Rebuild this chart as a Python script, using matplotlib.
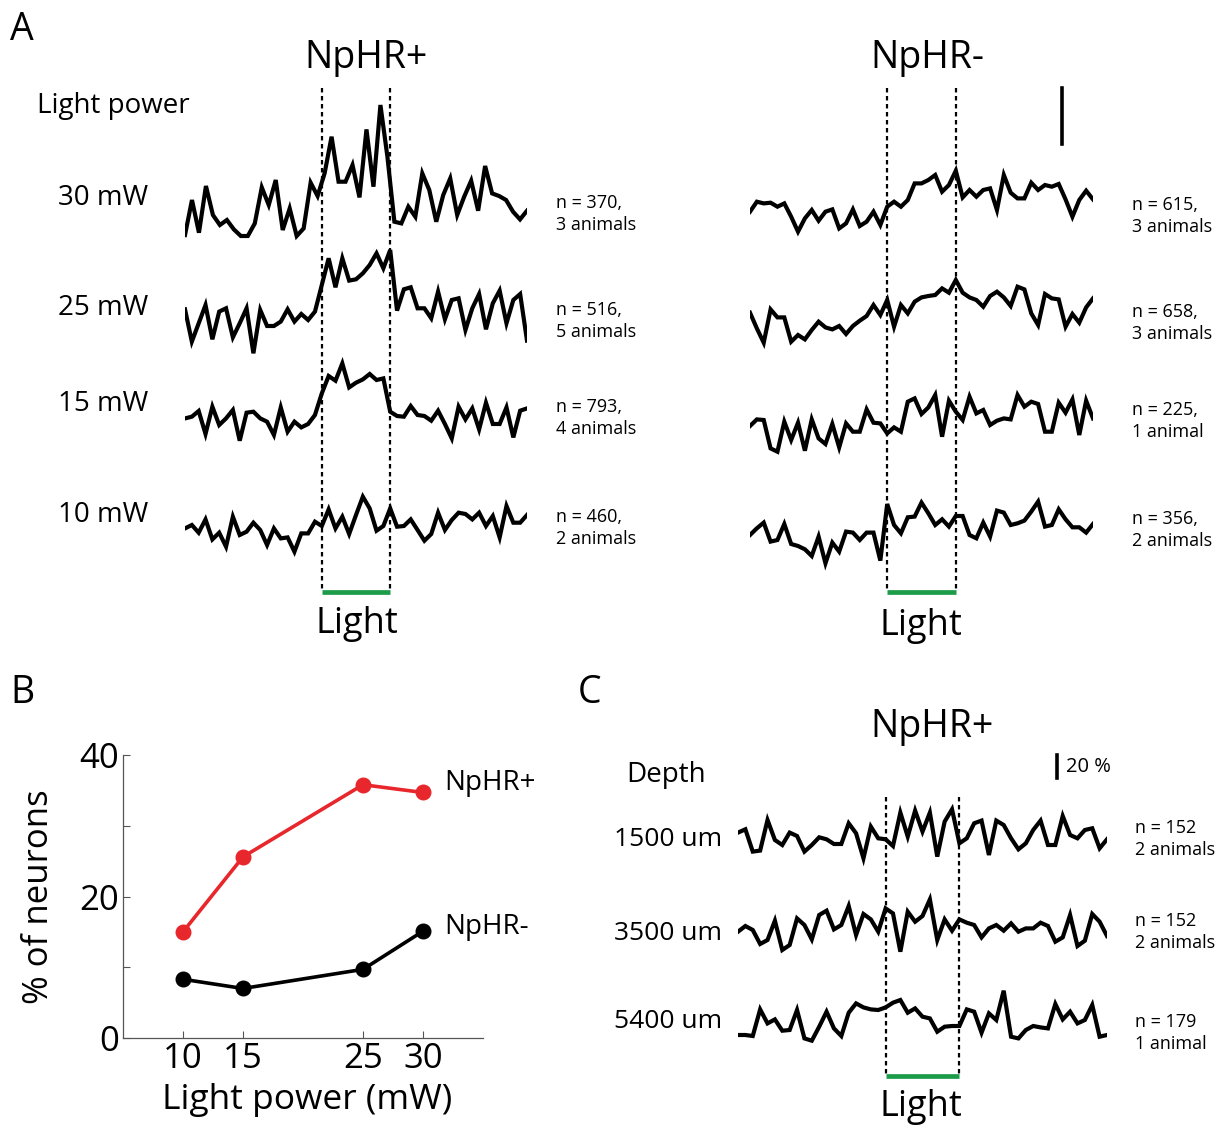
import numpy as np
import matplotlib
matplotlib.use("Agg")
import matplotlib.pyplot as plt

plt.rcParams['font.family'] = ['Open Sans', 'DejaVu Sans']

W, H = 1220, 1126

# ---- panel A, NpHR+ traces (heights above each row baseline) ----
npos_30 = [1.7, 36.7, 4, 50.7, 21.7, 11.7, 16.7, 7.3, 0.7, 0.7, 13.3, 49.3, 31.7, 56.7, 6.7, 28.3, 0.7,
           8.3, 54, 40.7, 63.3, 100, 55, 55, 71.7, 39.3, 107.3, 50, 131.7, 80, 15, 13.3, 30, 20, 63.3,
           46.7, 15, 41.7, 58.3, 21.7, 40, 56, 26, 70.7, 43.3, 40.7, 36.7, 25, 17.3, 26]
npos_25 = [44, 11.7, 30, 48.3, 14, 41.7, 45, 16, 30, 45, 0, 43.3, 27.3, 27.3, 31.7, 44, 31.7, 39.3, 33.3,
           41.7, 68.3, 95, 66, 95, 72.7, 74, 80, 88.3, 100, 85, 103.3, 42.7, 64, 66, 45, 45, 35, 61.7, 34,
           53.3, 55, 23.3, 45, 59.3, 24, 50, 62.7, 30, 53.3, 59.3, 12.7]
npos_15 = [22.3, 24, 29.7, 6.7, 34, 15.7, 22.3, 30.7, 0, 28, 29, 22.3, 19, 5.7, 33.3, 9, 19, 13.3, 16.7,
           25.7, 47.3, 64.7, 60, 77.3, 53.3, 58, 61.3, 66.7, 60.7, 62.3, 29, 24.7, 24, 34.7, 25.7, 24.7,
           20, 30, 16.7, 2.3, 34, 21.3, 32.3, 11.3, 38, 16.7, 16.7, 33.3, 3.3, 30, 32.3]
npos_10 = [23.3, 26.7, 19, 32.3, 12.3, 19, 5, 35, 16.7, 20, 29, 21.7, 6.7, 23.3, 13.3, 14.3, 0, 18.3,
           18.3, 30, 25.7, 42.3, 23.3, 35, 17.7, 36.7, 55, 43.3, 21, 25.7, 43.3, 25, 25.7, 32.3, 21.7, 11,
           17.7, 39, 21.7, 31.7, 39, 37.7, 32.3, 39, 25.7, 35.7, 14.3, 45.7, 29, 29, 36.7]

# ---- panel A, NpHR- traces ----
nneg_30 = [20, 30, 28.3, 29, 25, 28.3, 15, 0, 13.3, 21.7, 11, 20, 22.3, 3.3, 8.3, 22.3, 5.7, 10, 20, 6.7,
           25, 30, 25, 31.7, 48.3, 48.3, 51.7, 56.7, 40, 46.7, 61, 34.3, 41.7, 35, 41.7, 43.3, 21.7, 56.7,
           39, 33.3, 33.3, 49, 41.7, 46.7, 45, 47.7, 32.3, 15, 31.7, 41, 32.3]
nneg_25 = [30, 14.3, 0, 33.3, 25.3, 25.3, 1, 7.7, 3.3, 12.7, 21, 15.3, 13.3, 16.7, 8.7, 16.7, 22, 26.7,
           37.7, 27.7, 42.7, 16, 37.7, 29.3, 41, 45.3, 46.7, 47.7, 54.3, 50, 62.7, 50, 45.3, 42.7, 36, 46.7,
           51, 45.3, 36.7, 56, 53.3, 29.3, 17.7, 48.7, 44.3, 43.3, 16, 28.7, 20, 35.3, 44.3]
nneg_15 = [25.7, 32.3, 31.7, 3.3, 0, 30, 11.7, 29, 1, 32.3, 13.3, 7.7, 27.7, 4.3, 28.3, 20, 20, 42.3, 29,
           28.3, 18.3, 24.3, 20, 50, 53.3, 37.7, 44.3, 56.7, 15, 51, 40, 31.7, 55, 38.3, 41.7, 26.7, 31,
           33.3, 32.3, 56.7, 45, 50, 47.7, 20, 20, 49, 39, 52.3, 16.7, 51, 33.3]
nneg_10 = [28.3, 35, 40.7, 21.7, 23.3, 39.3, 19.3, 17.3, 14, 7.3, 26.7, 0, 20.7, 11.7, 31.7, 30.7, 23.3,
           30.7, 30.7, 2.7, 59.3, 38.3, 30, 46, 46.7, 60.7, 50, 38.3, 44, 36.7, 47.3, 47.3, 28.3, 25, 40.7,
           26.7, 52.7, 50.7, 38.3, 40, 42.7, 51.7, 61.7, 36.7, 38.3, 54, 44, 36, 36, 30.7, 39.3]

# ---- panel C, depth traces ----
depth_1500 = [25.7, 29, 6.7, 7.7, 38.3, 18.3, 13.3, 25.7, 22.3, 6.7, 13.3, 21, 19, 14.3, 14.3, 35, 25, 0,
              31.7, 20, 19, 12.3, 45.7, 21.7, 47.7, 26.7, 45.7, 1.7, 36.7, 49, 15, 20, 35, 37.7, 3.3, 37.7,
              33.3, 20, 9, 15, 28.3, 37.7, 13.3, 13.3, 42.3, 23.3, 20, 28.3, 30, 10, 19]
depth_3500 = [20, 25.7, 21.7, 7.7, 11.7, 31, 1.7, 6.7, 33.3, 26.7, 12.3, 36.7, 41, 22.3, 26.7, 45.7, 16.7,
              37.7, 32.3, 20, 43.3, 38.3, 0, 40, 30, 35.7, 52.3, 11.7, 32.3, 21, 32.3, 29, 26.7, 14.3, 23.3,
              26.7, 21, 28.3, 20, 23.3, 23.3, 29, 25.7, 10, 14.3, 36.7, 5.7, 11, 37.7, 30, 15.7]
depth_5400 = [5.7, 5.7, 4.7, 31.3, 17.3, 21.3, 10, 10.7, 30.7, 2.3, 0, 14, 29, 12.3, 4.7, 28, 37.3, 33.3,
              31.3, 30.7, 33.3, 38, 40.7, 28, 32.3, 24, 22.3, 9, 14, 14.7, 14.7, 31.3, 29, 8, 27.3, 20.7,
              50, 4, 2.3, 10.7, 14.7, 13.3, 12.3, 36.7, 21.3, 29, 17.3, 20.7, 35.7, 4, 5.7]

powers_lbl = ['30 mW', '25 mW', '15 mW', '10 mW']
npos_n = ['n = 370,\n3 animals', 'n = 516,\n5 animals', 'n = 793,\n4 animals', 'n = 460,\n2 animals']
nneg_n = ['n = 615,\n3 animals', 'n = 658,\n3 animals', 'n = 225,\n1 animal', 'n = 356,\n2 animals']
depth_lbl = ['1500 um', '3500 um', '5400 um']
depth_n = ['n = 152\n2 animals', 'n = 152\n2 animals', 'n = 179\n1 animal']

# ---- panel B ----
power = [10, 15, 25, 30]
pct_npos = [15, 25.6, 35.8, 34.7]
pct_nneg = [8.3, 7.0, 9.7, 15.1]

light_on, light_off = 0, 1
t_start, t_end = -2, 3
green = '#1c9c48'


def fx(x):
    return x / W


def fy(y):
    return 1 - y / H


def trace_axes(x0, x1):
    ax = fig.add_axes([fx(x0), 0, fx(x1) - fx(x0), 1])
    ax.set_xlim(t_start, t_end)
    ax.set_ylim(H, 0)
    ax.axis('off')
    return ax


def draw_traces(ax, traces, bases, top, bottom, bar_y):
    for vals, base in zip(traces, bases):
        t = np.linspace(t_start, t_end, len(vals))
        ax.plot(t, base - np.array(vals), color='black', lw=3.0, solid_joinstyle='miter')
    for tl in (light_on, light_off):
        ax.plot([tl, tl], [top, bottom], color='black', lw=1.6, ls=(0, (2, 1.6)))
    ax.plot([light_on, light_off], [bar_y, bar_y], color=green, lw=3.4, solid_capstyle='butt')


fig = plt.figure(figsize=(W / 100, H / 100), dpi=100)

# panel A left
axL = trace_axes(185, 527)
draw_traces(axL, [npos_30, npos_25, npos_15, npos_10], [236.7, 353.3, 440.7, 551.7], 88, 590, 592)
# panel A right
axR = trace_axes(750, 1093)
draw_traces(axR, [nneg_30, nneg_25, nneg_15, nneg_10], [231.7, 342.7, 451.7, 563.3], 88, 590, 592)
# panel C
axC = trace_axes(738, 1107)
draw_traces(axC, [depth_1500, depth_3500, depth_5400], [858.3, 951.7, 1040.7], 797, 1075, 1076)

# scale bars
fig.add_artist(plt.Line2D([fx(1062), fx(1062)], [fy(88), fy(144)], color='black', lw=2.6))
fig.add_artist(plt.Line2D([fx(1057), fx(1057)], [fy(755), fy(778)], color='black', lw=2.6))
fig.text(fx(1066), fy(767), '20 %', fontsize=14.5, va='center', ha='left')

# text panel A
fig.text(fx(10), fy(30), 'A', fontsize=27, va='center')
fig.text(fx(366), fy(58), 'NpHR+', fontsize=27, ha='center', va='center')
fig.text(fx(927), fy(58), 'NpHR-', fontsize=27, ha='center', va='center')
fig.text(fx(37), fy(106), 'Light power', fontsize=20, va='center')
for lbl, y in zip(powers_lbl, [198, 308, 404, 515]):
    fig.text(fx(148), fy(y), lbl, fontsize=20, ha='right', va='center')
for lbl, y in zip(npos_n, [214, 321, 418, 528]):
    fig.text(fx(556), fy(y), lbl, fontsize=13, va='center', linespacing=1.25)
for lbl, y in zip(nneg_n, [216, 323, 421, 530]):
    fig.text(fx(1132), fy(y), lbl, fontsize=13, va='center', linespacing=1.25)
fig.text(fx(357), fy(624), 'Light', fontsize=26, ha='center', va='center')
fig.text(fx(921), fy(626), 'Light', fontsize=26, ha='center', va='center')

# text panel C
fig.text(fx(10), fy(693), 'B', fontsize=27, va='center')
fig.text(fx(578), fy(693), 'C', fontsize=27, va='center')
fig.text(fx(932), fy(727), 'NpHR+', fontsize=27, ha='center', va='center')
fig.text(fx(626), fy(775), 'Depth', fontsize=20, va='center')
for lbl, y in zip(depth_lbl, [840, 933, 1022]):
    fig.text(fx(722), fy(y), lbl, fontsize=19, ha='right', va='center')
for lbl, y in zip(depth_n, [839, 932, 1033]):
    fig.text(fx(1135), fy(y), lbl, fontsize=13, va='center', linespacing=1.25)
fig.text(fx(921), fy(1107), 'Light', fontsize=26, ha='center', va='center')

# panel B
axB = fig.add_axes([fx(123), fy(1038), fx(483) - fx(123), fy(755) - fy(1038)])
axB.plot(power, pct_npos, color='#e8272d', lw=2.6, marker='o', ms=10.5)
axB.plot(power, pct_nneg, color='black', lw=2.6, marker='o', ms=10.5)
axB.set_xlim(5, 35)
axB.set_ylim(0, 40)
axB.set_xticks(power)
axB.set_yticks([0, 10, 20, 30, 40])
axB.set_yticklabels(['0', '', '20', '', '40'])
axB.tick_params(direction='in', length=5, width=0.8, color='#555555', labelsize=25, pad=3)
for s in ['top', 'right']:
    axB.spines[s].set_visible(False)
for s in ['left', 'bottom']:
    axB.spines[s].set_color('#555555')
    axB.spines[s].set_linewidth(0.9)
axB.set_xlabel('Light power (mW)', fontsize=25.5)
axB.set_ylabel('% of neurons', fontsize=25)
axB.xaxis.set_label_coords(0.511, -0.16)
axB.yaxis.set_label_coords(-0.185, 0.5)
axB.text(31.8, pct_npos[3] + 1.4, 'NpHR+', fontsize=20, va='center')
axB.text(31.8, pct_nneg[3] + 0.6, 'NpHR-', fontsize=20, va='center')

fig.savefig('out.png', dpi=100)
